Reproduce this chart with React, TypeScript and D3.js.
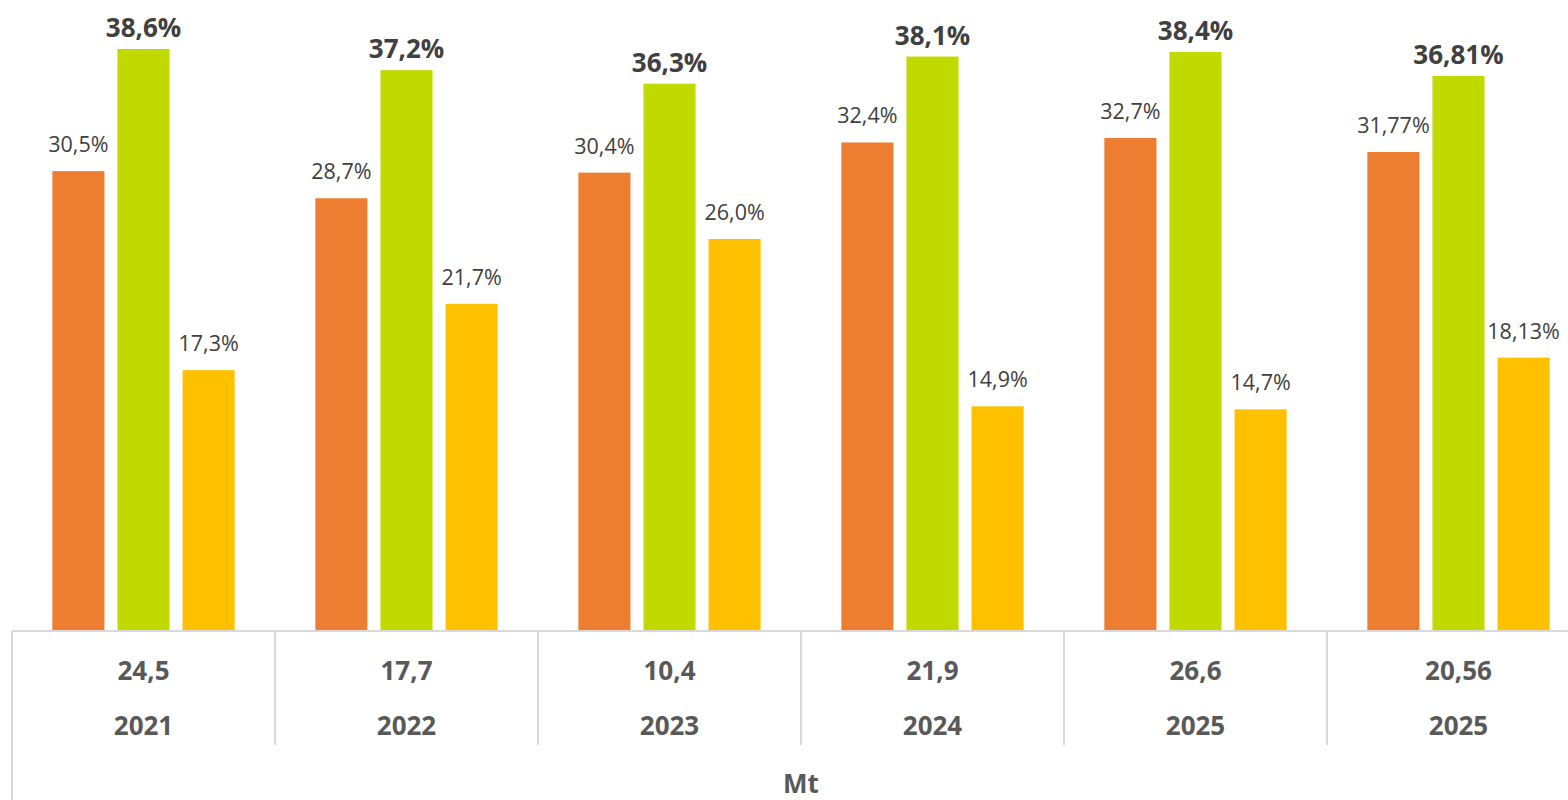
import React, { useEffect, useRef } from "react";
import * as d3 from "d3";

// one entry per group
const years = ["2021", "2022", "2023", "2024", "2025", "2025"];
const mtValues = ["24,5", "17,7", "10,4", "21,9", "26,6", "20,56"];
const orangeVals = [30.5, 28.7, 30.4, 32.4, 32.7, 31.77];
const greenVals = [38.6, 37.2, 36.3, 38.1, 38.4, 36.81];
const yellowVals = [17.3, 21.7, 26.0, 14.9, 14.7, 18.13];
const orangeLabels = ["30,5%", "28,7%", "30,4%", "32,4%", "32,7%", "31,77%"];
const greenLabels = ["38,6%", "37,2%", "36,3%", "38,1%", "38,4%", "36,81%"];
const yellowLabels = ["17,3%", "21,7%", "26,0%", "14,9%", "14,7%", "18,13%"];

const App = () => {
  const ref = useRef<SVGSVGElement>(null);

  useEffect(() => {
    const W = 1568, H = 800;
    const left = 12, baseY = 631;
    const svg = d3.select(ref.current);
    svg.selectAll("*").remove();

    const groups = years.map((_, i) => String(i));
    const x = d3.scaleBand().domain(groups).range([left, left + 263 * 6]).paddingInner(0).paddingOuter(0);
    const y = d3.scaleLinear().domain([0, 38.6]).range([baseY, 49]);

    const series = [
      { key: "orange", color: "#ED7D31", vals: orangeVals, labels: orangeLabels, bold: false },
      { key: "green", color: "#C0DA00", vals: greenVals, labels: greenLabels, bold: true },
      { key: "yellow", color: "#FFC000", vals: yellowVals, labels: yellowLabels, bold: false },
    ];
    const inner = d3.scaleBand().domain(series.map((s) => s.key)).range([0, x.bandwidth()]).paddingInner(0.2).paddingOuter(0.62);

    const font = "'Open Sans', 'DejaVu Sans', sans-serif";

    series.forEach((s) => {
      const g = svg.append("g");
      g.selectAll("rect")
        .data(s.vals)
        .join("rect")
        .attr("x", (_, i) => (x(String(i)) as number) + (inner(s.key) as number))
        .attr("y", (d) => y(d))
        .attr("width", inner.bandwidth())
        .attr("height", (d) => baseY - y(d))
        .attr("fill", s.color);
      g.selectAll("text")
        .data(s.vals)
        .join("text")
        .attr("x", (_, i) => (x(String(i)) as number) + (inner(s.key) as number) + inner.bandwidth() / 2)
        .attr("y", (d) => y(d) - (s.bold ? 12 : 19))
        .attr("text-anchor", "middle")
        .attr("font-family", font)
        .attr("font-size", s.bold ? 26 : 21.5)
        .attr("font-weight", s.bold ? 700 : 400)
        .attr("fill", "#404040")
        .text((_, i) => s.labels[i]);
    });

    // axis lines
    const axis = svg.append("g").attr("stroke", "#D9D9D9").attr("stroke-width", 2);
    axis.append("line").attr("x1", left).attr("x2", W).attr("y1", baseY).attr("y2", baseY);
    axis.append("line").attr("x1", left).attr("x2", left).attr("y1", baseY).attr("y2", H);
    axis.selectAll("line.sep")
      .data(groups.slice(1))
      .join("line")
      .attr("class", "sep")
      .attr("x1", (d) => x(d) as number)
      .attr("x2", (d) => x(d) as number)
      .attr("y1", baseY)
      .attr("y2", 745);

    const lab = svg.append("g")
      .attr("font-family", font)
      .attr("font-size", 26)
      .attr("font-weight", 700)
      .attr("fill", "#595959")
      .attr("text-anchor", "middle");
    lab.selectAll("text.mt")
      .data(mtValues)
      .join("text")
      .attr("class", "mt")
      .attr("x", (_, i) => (x(String(i)) as number) + x.bandwidth() / 2)
      .attr("y", 680)
      .text((d) => d);
    lab.selectAll("text.yr")
      .data(years)
      .join("text")
      .attr("class", "yr")
      .attr("x", (_, i) => (x(String(i)) as number) + x.bandwidth() / 2)
      .attr("y", 735)
      .text((d) => d);
    lab.append("text").attr("x", 801).attr("y", 793).text("Mt");
  }, []);

  return (
    <svg ref={ref} width={1568} height={800} style={{ position: "absolute", left: 0, top: 0, background: "#fff" }} />
  );
};

export default App;
